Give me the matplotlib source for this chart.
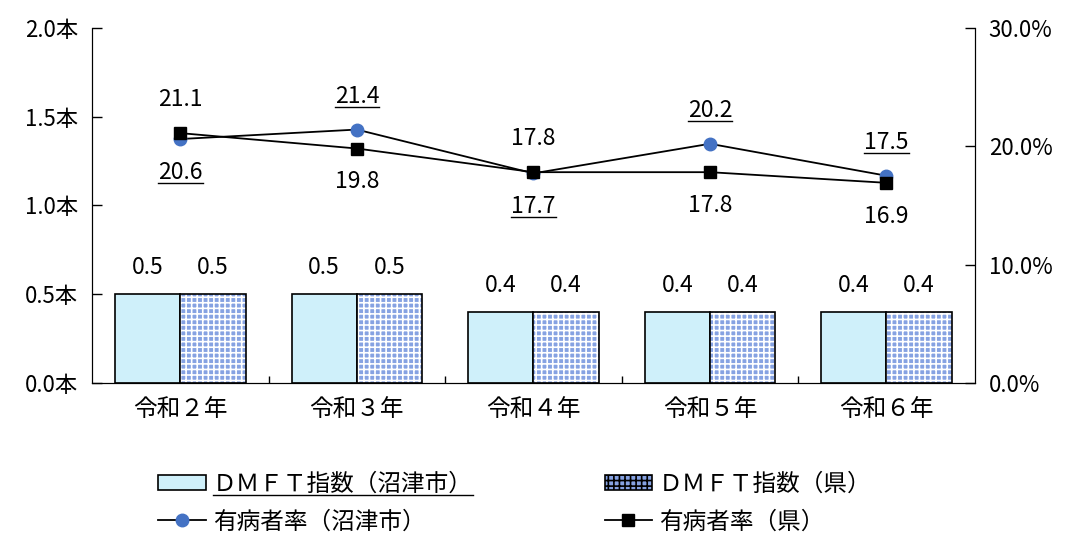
import matplotlib
matplotlib.use("Agg")
import matplotlib.pyplot as plt
from matplotlib.lines import Line2D
from matplotlib.patches import Patch
import numpy as np

plt.rcParams['font.family'] = ['Noto Sans CJK JP', 'DejaVu Sans']
plt.rcParams['hatch.linewidth'] = 1.2

categories = ["令和２年", "令和３年", "令和４年", "令和５年", "令和６年"]
dmft_city = [0.5, 0.5, 0.4, 0.4, 0.4]
dmft_pref = [0.5, 0.5, 0.4, 0.4, 0.4]
rate_city = [20.6, 21.4, 17.7, 20.2, 17.5]
rate_pref = [21.1, 19.8, 17.8, 17.8, 16.9]

left_ticks = [0.0, 0.5, 1.0, 1.5, 2.0]
right_ticks = [0, 10, 20, 30]

CITY_BAR = '#CFF0FA'
PREF_BAR = '#86A2E2'
BLUE = '#4472C4'

fig = plt.figure(figsize=(10.7, 5.34), dpi=100)
ax = fig.add_axes([0.086, 0.283, 0.825, 0.665])
ax2 = ax.twinx()

x = np.arange(len(categories))
w = 0.37

ax.bar(x - w / 2, dmft_city, w, color=CITY_BAR, edgecolor='black', linewidth=1.2, zorder=2)
ax.bar(x + w / 2, dmft_pref, w, color=PREF_BAR, edgecolor='white', linewidth=0, hatch='+++', zorder=2)
ax.bar(x + w / 2, dmft_pref, w, fill=False, edgecolor='black', linewidth=1.2, zorder=3)

for i in range(len(x)):
    ax.annotate(f"{dmft_city[i]:.1f}", (x[i] - w / 2, dmft_city[i]), xytext=(0, 19),
                textcoords='offset points', ha='center', va='center', fontsize=16.5)
    ax.annotate(f"{dmft_pref[i]:.1f}", (x[i] + w / 2, dmft_pref[i]), xytext=(0, 19),
                textcoords='offset points', ha='center', va='center', fontsize=16.5)

ax.set_xlim(-0.5, len(categories) - 0.5)
ax.set_ylim(0, 2.0)
ax.set_yticks(left_ticks)
ax.set_yticklabels([f"{t:.1f}本" for t in left_ticks], fontsize=16)
ax.set_xticks(x)
ax.set_xticklabels(categories, fontsize=17)
ax.set_xticks(np.arange(0.5, len(categories) - 0.5, 1), minor=True)
ax.tick_params(axis='x', which='major', length=0, pad=11)
ax.tick_params(axis='x', which='minor', direction='in', length=5, width=1)
ax.tick_params(axis='y', direction='in', length=7, width=1, pad=10)
ax.spines['top'].set_visible(False)

ax2.plot(x, rate_city, color='black', linewidth=1.3, marker='o', markersize=9,
         markerfacecolor=BLUE, markeredgecolor=BLUE, zorder=4)
ax2.plot(x, rate_pref, color='black', linewidth=1.3, marker='s', markersize=9,
         markerfacecolor='black', markeredgecolor='black', zorder=5)
ax2.set_ylim(0, 30)
ax2.set_yticks(right_ticks)
ax2.set_yticklabels([f"{t:.1f}%" for t in right_ticks], fontsize=16)
ax2.tick_params(axis='y', direction='in', length=7, width=1, pad=10)
ax2.spines['top'].set_visible(False)

city_labels = []
for i in range(len(x)):
    up_city = rate_city[i] > rate_pref[i]
    t = ax2.annotate(f"{rate_city[i]:.1f}", (x[i], rate_city[i]),
                     xytext=(0, 24 if up_city else -24), textcoords='offset points',
                     ha='center', va='center', fontsize=16.5)
    city_labels.append(t)
    ax2.annotate(f"{rate_pref[i]:.1f}", (x[i], rate_pref[i]),
                 xytext=(0, -24 if up_city else 24), textcoords='offset points',
                 ha='center', va='center', fontsize=16.5)

handles = [
    Patch(facecolor=CITY_BAR, edgecolor='black', linewidth=1.2),
    Line2D([], [], color='black', linewidth=1.3, marker='o', markersize=9,
           markerfacecolor=BLUE, markeredgecolor=BLUE),
    Patch(facecolor=PREF_BAR, edgecolor='black', linewidth=1.2, hatch='+++'),
    Line2D([], [], color='black', linewidth=1.3, marker='s', markersize=9,
           markerfacecolor='black', markeredgecolor='black'),
]
labels = ["ＤＭＦＴ指数（沼津市）", "有病者率（沼津市）", "ＤＭＦＴ指数（県）", "有病者率（県）"]
leg = fig.legend(handles, labels, ncol=2, loc='upper left', bbox_to_anchor=(0.148, 0.114),
                 frameon=False, fontsize=17, handlelength=2.0, handleheight=0.6,
                 handletextpad=0.3, columnspacing=5.6, labelspacing=0.6,
                 borderaxespad=0, borderpad=0)

# underline the city labels and the first legend entry
fig.canvas.draw()
renderer = fig.canvas.get_renderer()
W, H = fig.bbox.width, fig.bbox.height
for t in city_labels + [leg.get_texts()[0]]:
    bb = t.get_window_extent(renderer)
    yy = bb.y0 + 1
    fig.add_artist(Line2D([bb.x0 / W, bb.x1 / W], [yy / H, yy / H],
                          color='black', linewidth=1, transform=fig.transFigure))

fig.savefig("out.png", dpi=100)
